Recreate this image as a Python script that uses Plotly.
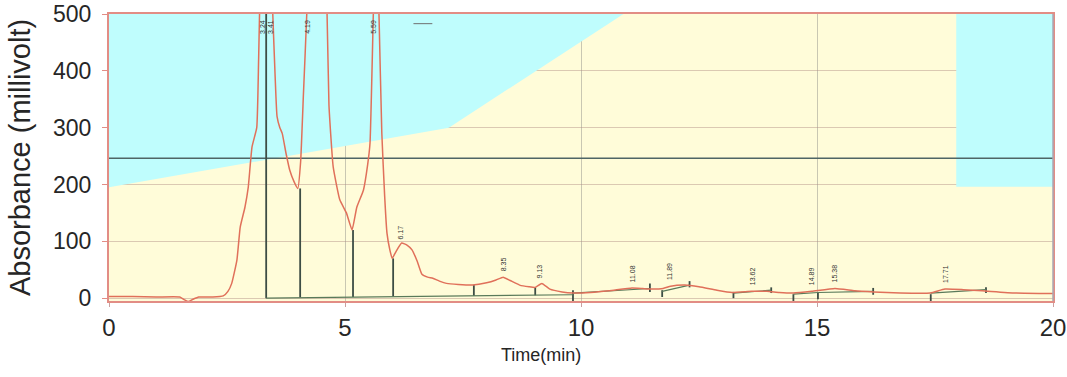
import numpy as np
import plotly.graph_objects as go

# Chromatogram signal (time in min, absorbance in mV); values above 500 run off-scale
time_min = [0.0, 0.5, 1.0, 1.5, 1.6, 1.68, 1.78, 1.9, 2.2, 2.42, 2.52, 2.6, 2.71, 2.78,
            2.88, 2.95, 3.03, 3.13, 3.17, 3.22, 3.3, 3.38, 3.47, 3.52, 3.56, 3.62, 3.67,
            3.75, 3.83, 3.92, 4.0, 4.06, 4.12, 4.19, 4.25, 4.35, 4.45, 4.55, 4.62, 4.66,
            4.75, 4.89, 5.03, 5.15, 5.25, 5.39, 5.48, 5.53, 5.6, 5.66, 5.72, 5.78, 5.84,
            5.89, 5.95, 6.0, 6.08, 6.2, 6.32, 6.42, 6.53, 6.63, 6.75, 6.86, 7.0, 7.15, 7.4,
            7.7, 8.0, 8.2, 8.35, 8.5, 8.7, 8.9, 9.03, 9.17, 9.34, 9.6, 9.83, 10.2, 10.6,
            11.08, 11.3, 11.46, 11.74, 11.9, 12.2, 12.5, 12.88, 13.2, 13.62, 13.94, 14.2,
            14.5, 14.89, 15.38, 15.8, 16.2, 16.76, 17.4, 17.71, 18.1, 18.5, 19.2, 20.0]
signal_mv = [3, 3, 2, 2, -3, -6, -2, 2, 2, 4, 12, 26, 67, 125,
             160, 195, 266, 300, 420, 620, 800, 750, 500, 390, 320, 300, 290,
             255, 225, 205, 193, 240, 360, 500, 700, 650, 700, 600, 500, 340,
             231, 173, 150, 120, 160, 190, 235, 273, 500, 700, 500, 290, 180,
             114, 85, 70, 82, 97, 93, 85, 65, 42, 37, 35, 30, 26, 24,
             23, 27, 32, 37, 31, 23, 20, 19, 26, 16, 11, 9, 10, 13,
             18, 17, 16, 17, 21, 23, 20, 14, 10, 12, 12, 10,
             9, 12, 17, 13, 11, 9, 9, 16, 15, 13, 9, 8]

# Gradient profile background (cyan above the boundary)
gradient_t = [0.0, 7.2, 10.9]
gradient_mv = [195, 300, 500]
wash_t = [17.95, 20.0]
wash_mv = [196, 500]

threshold_mv = 246

# Integration drop lines: time, lower and upper value
drop_t = [3.33, 4.05, 5.17, 6.02, 7.73, 9.03]
drop_low = [0, 1, 2, 3, 4, 5]
drop_high = [500, 193, 120, 70, 23, 19]

# Short integration marks after 9.8 min
mark_t = [9.83, 11.46, 11.72, 12.3, 13.23, 14.03, 14.5, 15.02, 16.19, 17.41, 18.58]
mark_low = [-6, 11, 2, 19, 0, 9, -5, -2, 6, -5, 9]
mark_high = [14, 26, 14, 30, 11, 19, 7, 11, 18, 7, 19]

# Baseline segments between integration marks
base_t = [3.33, 9.83, None, 9.83, 11.46, None, 11.72, 12.3, None, 13.23, 14.03, None,
          14.5, 15.02, 16.19, None, 17.41, 18.58]
base_mv = [0, 6, None, 9, 17, None, 12, 23, None, 9, 14, None,
           7, 10, 12, None, 9, 15]

# Retention-time labels
peak_t = [3.24, 3.41, 4.19, 5.59, 6.17, 8.35, 9.13, 11.08, 11.89, 13.62, 14.89, 15.38, 17.71]

# Legend-like dash near the top
dash_t = [6.45, 6.85]
dash_mv = [483, 483]

CYAN = "#bffdfd"
YELLOW = "#fffcd9"
RED = "#e0705a"
DARK = "#3d4d45"
TEXT = "#262626"

fig = go.Figure()

# cyan regions
fig.add_trace(go.Scatter(
    x=gradient_t + [gradient_t[-1], gradient_t[0]],
    y=gradient_mv + [500, 500],
    fill="toself", fillcolor=CYAN, line=dict(width=0), mode="lines",
    hoverinfo="skip", showlegend=False))
fig.add_trace(go.Scatter(
    x=[wash_t[0], wash_t[1], wash_t[1], wash_t[0]],
    y=[wash_mv[0], wash_mv[0], wash_mv[1], wash_mv[1]],
    fill="toself", fillcolor=CYAN, line=dict(width=0), mode="lines",
    hoverinfo="skip", showlegend=False))

# threshold line
fig.add_trace(go.Scatter(x=[0, 20], y=[threshold_mv, threshold_mv], mode="lines",
                         line=dict(color="#4f6565", width=1.5), showlegend=False))

# drop lines
xs, ys = [], []
for t, lo, hi in zip(drop_t, drop_low, drop_high):
    xs += [t, t, None]
    ys += [lo, hi, None]
fig.add_trace(go.Scatter(x=xs, y=ys, mode="lines",
                         line=dict(color=DARK, width=1.8), showlegend=False))
xs, ys = [], []
for t, lo, hi in zip(mark_t, mark_low, mark_high):
    xs += [t, t, None]
    ys += [lo, hi, None]
fig.add_trace(go.Scatter(x=xs, y=ys, mode="lines",
                         line=dict(color=DARK, width=1.8), showlegend=False))

# baseline
fig.add_trace(go.Scatter(x=base_t, y=base_mv, mode="lines", connectgaps=False,
                         line=dict(color="#5a7a5a", width=1.2), showlegend=False))

# signal
fig.add_trace(go.Scatter(x=time_min, y=signal_mv, mode="lines",
                         line=dict(color=RED, width=1.5, shape="spline", smoothing=0.4),
                         showlegend=False))

fig.add_trace(go.Scatter(x=dash_t, y=dash_mv, mode="lines",
                         line=dict(color="#707070", width=1), showlegend=False))

# retention time labels
for t in peak_t:
    h = float(np.interp(t, time_min, signal_mv))
    if h > 440:
        fig.add_annotation(x=t, y=500, text=f"{t:.2f}", textangle=-90, showarrow=False,
                           yanchor="top", yshift=-4, font=dict(size=7, color="#333333"))
    else:
        fig.add_annotation(x=t, y=h, text=f"{t:.2f}", textangle=-90, showarrow=False,
                           yanchor="bottom", yshift=4, font=dict(size=7, color="#333333"))

# x-axis title
fig.add_annotation(text="Time(min)", x=0.4576, xref="paper", y=-0.188, yref="paper",
                   xanchor="center", yanchor="middle", showarrow=False,
                   font=dict(size=18, color=TEXT))

fig.update_layout(
    width=1067, height=377,
    margin=dict(l=109, r=14, t=14, b=76),
    paper_bgcolor="white", plot_bgcolor=YELLOW,
    font=dict(family="Liberation Sans", color=TEXT),
)

fig.update_xaxes(range=[0, 20], tickvals=[0, 5, 10, 15, 20], showgrid=True,
                 gridcolor="rgba(120,120,120,0.4)", gridwidth=1, zeroline=False,
                 showline=True, linecolor="#e28d85", linewidth=2, mirror=True,
                 ticks="outside", ticklen=4, tickcolor="#c9a0a0", automargin=False,
                 tickfont=dict(size=24, color=TEXT))
fig.update_yaxes(range=[-5, 500], tickvals=[0, 100, 200, 300, 400, 500], showgrid=True,
                 gridcolor="rgba(175,140,130,0.45)", gridwidth=1, zeroline=False,
                 showline=True, linecolor="#e28d85", linewidth=2, mirror=True,
                 ticks="outside", ticklen=5, tickcolor="#e28d85", automargin=False,
                 ticklabelstandoff=6,
                 tickfont=dict(size=23, color=TEXT),
                 title=dict(text="Absorbance (millivolt)", font=dict(size=29, color=TEXT),
                            standoff=14))

# right border in grey
fig.add_shape(type="line", x0=1, x1=1, y0=0, y1=1, xref="paper", yref="paper",
              line=dict(color="#a8a8b4", width=1.5))

fig.write_html("out.html")
